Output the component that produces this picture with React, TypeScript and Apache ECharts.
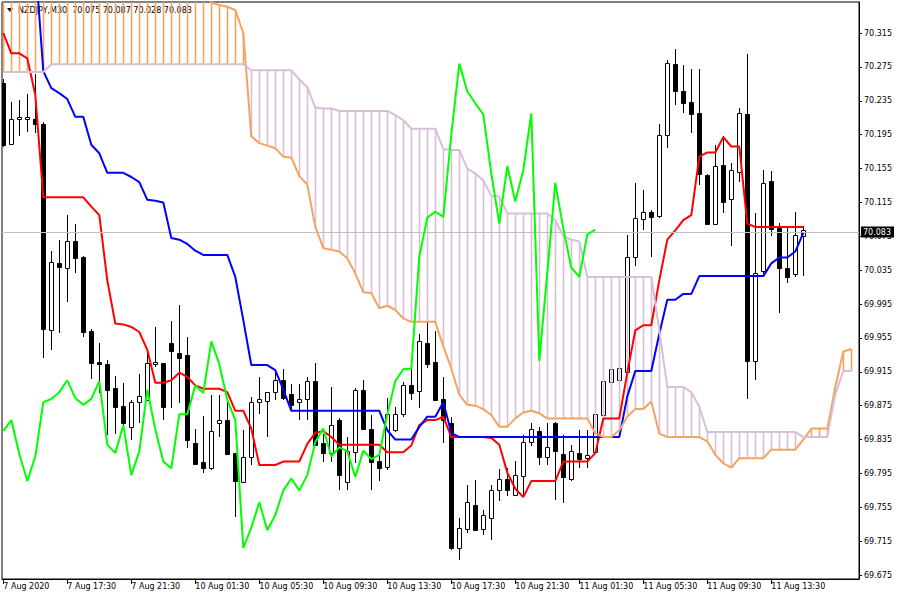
import React, { useEffect, useRef } from "react";
import * as echarts from "echarts";

const FONT = "DejaVu Sans";

const chartTitle = "NZDJPY,M30  70.075 70.087 70.028 70.083";
const lastPrice = 70.083;

const timeLabels = [
  "7 Aug 2020", "7 Aug 17:30", "7 Aug 21:30", "10 Aug 01:30", "10 Aug 05:30",
  "10 Aug 09:30", "10 Aug 13:30", "10 Aug 17:30", "10 Aug 21:30", "11 Aug 01:30",
  "11 Aug 05:30", "11 Aug 09:30", "11 Aug 13:30",
];
const labelBars = [0, 8, 16, 24, 32, 40, 48, 56, 64, 72, 80, 88, 96];

const priceTicks = [
  70.315, 70.275, 70.235, 70.195, 70.155, 70.115, 70.075, 70.035, 69.995,
  69.955, 69.915, 69.875, 69.835, 69.795, 69.755, 69.715, 69.675,
];

// OHLC of 101 M30 bars
const opens = [
  70.256, 70.184, 70.213, 70.213, 70.213, 70.208, 69.964, 70.043, 70.038, 70.069,
  70.050, 69.963, 69.927, 69.924, 69.896, 69.875, 69.850, 69.879, 69.882, 69.924,
  69.925, 69.949, 69.937, 69.935, 69.831, 69.808, 69.801, 69.854, 69.858, 69.819,
  69.785, 69.815, 69.879, 69.880, 69.891, 69.905, 69.889, 69.879, 69.883, 69.904,
  69.831, 69.819, 69.858, 69.785, 69.820, 69.894, 69.847, 69.810, 69.803, 69.846,
  69.865, 69.899, 69.892, 69.949, 69.927, 69.883, 69.855, 69.707, 69.730, 69.758,
  69.729, 69.743, 69.775, 69.789, 69.770, 69.792, 69.832, 69.845, 69.815, 69.855,
  69.818, 69.788, 69.819, 69.813, 69.820, 69.864, 69.903, 69.905, 69.915, 70.051,
  70.096, 70.104, 70.099, 70.194, 70.278, 70.247, 70.233, 70.221, 70.147, 70.090,
  70.159, 70.119, 70.151, 70.219, 69.928, 70.034, 70.140, 70.085, 70.037, 70.031,
  70.075,
];
const highs = [
  70.261, 70.234, 70.236, 70.243, 70.267, 70.210, 70.058, 70.071, 70.100, 70.090,
  70.052, 69.965, 69.949, 69.929, 69.910, 69.902, 69.882, 69.913, 69.937, 69.968,
  69.925, 69.975, 69.994, 69.956, 69.847, 69.863, 69.888, 69.888, 69.882, 69.819,
  69.846, 69.885, 69.909, 69.891, 69.917, 69.918, 69.901, 69.901, 69.909, 69.925,
  69.842, 69.897, 69.860, 69.838, 69.896, 69.905, 69.864, 69.819, 69.884, 69.874,
  69.903, 69.930, 69.960, 69.974, 69.963, 69.909, 69.862, 69.743, 69.781, 69.787,
  69.752, 69.781, 69.800, 69.802, 69.810, 69.840, 69.855, 69.850, 69.854, 69.856,
  69.840, 69.829, 69.846, 69.846, 69.868, 69.905, 69.918, 69.919, 70.077, 70.138,
  70.130, 70.106, 70.207, 70.283, 70.296, 70.277, 70.272, 70.272, 70.149, 70.183,
  70.193, 70.162, 70.227, 70.290, 70.103, 70.153, 70.152, 70.091, 70.085, 70.104,
  70.087,
];
const lows = [
  70.180, 70.184, 70.193, 70.198, 70.197, 69.931, 69.941, 69.961, 69.998, 70.032,
  69.956, 69.907, 69.890, 69.840, 69.842, 69.850, 69.835, 69.854, 69.880, 69.921,
  69.858, 69.872, 69.878, 69.825, 69.805, 69.795, 69.799, 69.838, 69.817, 69.744,
  69.785, 69.805, 69.865, 69.838, 69.882, 69.882, 69.870, 69.858, 69.858, 69.827,
  69.809, 69.809, 69.775, 69.775, 69.807, 69.846, 69.775, 69.786, 69.799, 69.844,
  69.862, 69.882, 69.872, 69.919, 69.880, 69.831, 69.705, 69.693, 69.725, 69.727,
  69.722, 69.716, 69.762, 69.768, 69.768, 69.768, 69.827, 69.805, 69.805, 69.764,
  69.760, 69.786, 69.801, 69.801, 69.819, 69.860, 69.902, 69.903, 69.905, 70.040,
  70.083, 70.051, 70.097, 70.179, 70.230, 70.220, 70.197, 70.136, 70.089, 70.088,
  70.102, 70.064, 70.139, 69.883, 69.905, 70.031, 70.075, 69.985, 70.020, 70.027,
  70.028,
];
const closes = [
  70.183, 70.213, 70.216, 70.216, 70.208, 69.965, 70.045, 70.039, 70.069, 70.049,
  69.962, 69.925, 69.924, 69.894, 69.874, 69.855, 69.879, 69.886, 69.925, 69.927,
  69.874, 69.940, 69.931, 69.835, 69.806, 69.802, 69.845, 69.858, 69.818, 69.786,
  69.815, 69.879, 69.883, 69.891, 69.905, 69.884, 69.876, 69.883, 69.904, 69.829,
  69.819, 69.852, 69.793, 69.821, 69.894, 69.847, 69.809, 69.801, 69.865, 69.865,
  69.899, 69.890, 69.951, 69.924, 69.882, 69.858, 69.707, 69.731, 69.761, 69.728,
  69.746, 69.775, 69.789, 69.775, 69.793, 69.832, 69.848, 69.815, 69.826, 69.821,
  69.791, 69.822, 69.812, 69.817, 69.865, 69.904, 69.918, 69.919, 70.051, 70.097,
  70.104, 70.098, 70.195, 70.279, 70.246, 70.232, 70.219, 70.149, 70.090, 70.158,
  70.116, 70.153, 70.220, 69.928, 70.032, 70.138, 70.084, 70.038, 70.027, 70.077,
  70.083,
];

// Ichimoku lines
const tenkan = [
  70.315, 70.291, 70.291, 70.285, 70.242, 70.121, 70.121, 70.121, 70.121, 70.121,
  70.121, 70.110, 70.100, 70.023, 69.972, 69.971, 69.968, 69.962, 69.941, 69.902,
  69.902, 69.905, 69.914, 69.909, 69.899, 69.895, 69.895, 69.895, 69.891, 69.869,
  69.869, 69.848, 69.805, 69.805, 69.805, 69.809, 69.809, 69.809, 69.830, 69.843,
  69.845, 69.838, 69.829, 69.829, 69.829, 69.829, 69.829, 69.829, 69.820, 69.820,
  69.820, 69.828, 69.852, 69.858, 69.858, 69.862, 69.838, 69.838, 69.838, 69.838,
  69.838, 69.837, 69.829, 69.796, 69.777, 69.767, 69.786, 69.786, 69.786, 69.786,
  69.809, 69.809, 69.809, 69.809, 69.819, 69.860, 69.860, 69.860, 69.914, 69.964,
  69.970, 69.970, 70.023, 70.071, 70.082, 70.094, 70.100, 70.169, 70.174, 70.174,
  70.192, 70.181, 70.181, 70.090, 70.086, 70.086, 70.086, 70.086, 70.086, 70.086,
  70.086,
];
const kijun = [
  70.420, 70.420, 70.420, 70.420, 70.400, 70.270, 70.250, 70.244, 70.237, 70.216,
  70.216, 70.183, 70.173, 70.150, 70.150, 70.150, 70.145, 70.139, 70.118, 70.117,
  70.115, 70.073, 70.071, 70.066, 70.058, 70.053, 70.053, 70.053, 70.053, 70.027,
  69.976, 69.923, 69.923, 69.923, 69.917, 69.894, 69.869, 69.869, 69.869, 69.869,
  69.869, 69.869, 69.869, 69.869, 69.869, 69.869, 69.869, 69.869, 69.846, 69.835,
  69.835, 69.835, 69.850, 69.862, 69.862, 69.879, 69.843, 69.838, 69.838, 69.838,
  69.838, 69.838, 69.838, 69.838, 69.838, 69.838, 69.838, 69.838, 69.838, 69.838,
  69.838, 69.838, 69.838, 69.838, 69.838, 69.838, 69.838, 69.838, 69.886, 69.916,
  69.916, 69.916, 69.960, 70.000, 70.000, 70.007, 70.007, 70.028, 70.028, 70.028,
  70.028, 70.028, 70.028, 70.028, 70.028, 70.028, 70.043, 70.050, 70.050, 70.057,
  70.079,
];
const spanA = [
  70.400, 70.400, 70.400, 70.400, 70.400, 70.400, 70.400, 70.400, 70.400, 70.400,
  70.400, 70.400, 70.400, 70.400, 70.400, 70.400, 70.400, 70.400, 70.400, 70.400,
  70.400, 70.400, 70.400, 70.400, 70.400, 70.370, 70.351, 70.348, 70.346, 70.342,
  70.315, 70.193, 70.185, 70.182, 70.179, 70.169, 70.168, 70.146, 70.136, 70.086,
  70.061, 70.059, 70.057, 70.049, 70.031, 70.009, 70.008, 69.990, 69.993, 69.988,
  69.978, 69.974, 69.974, 69.974, 69.974, 69.945, 69.919, 69.888, 69.876, 69.875,
  69.871, 69.864, 69.850, 69.850, 69.860, 69.867, 69.869, 69.866, 69.860, 69.860,
  69.860, 69.860, 69.860, 69.860, 69.842, 69.838, 69.838, 69.846, 69.862, 69.871,
  69.871, 69.880, 69.842, 69.838, 69.838, 69.838, 69.838, 69.838, 69.833, 69.817,
  69.807, 69.802, 69.813, 69.813, 69.813, 69.813, 69.823, 69.823, 69.823, 69.823,
  69.835, 69.848, 69.848, 69.848, 69.897, 69.939, 69.942,
];
const spanB = [
  70.269, 70.269, 70.269, 70.269, 70.269, 70.269, 70.278, 70.278, 70.278, 70.278,
  70.278, 70.278, 70.278, 70.278, 70.278, 70.278, 70.278, 70.278, 70.278, 70.278,
  70.278, 70.278, 70.278, 70.278, 70.278, 70.278, 70.278, 70.278, 70.278, 70.278,
  70.278, 70.271, 70.271, 70.271, 70.271, 70.271, 70.271, 70.260, 70.251, 70.227,
  70.226, 70.226, 70.223, 70.223, 70.223, 70.223, 70.223, 70.223, 70.223, 70.218,
  70.212, 70.202, 70.202, 70.202, 70.202, 70.178, 70.177, 70.177, 70.155, 70.149,
  70.141, 70.123, 70.122, 70.102, 70.102, 70.102, 70.102, 70.102, 70.102, 70.094,
  70.075, 70.071, 70.069, 70.027, 70.027, 70.027, 70.027, 70.027, 70.027, 70.027,
  70.027, 70.027, 69.964, 69.897, 69.897, 69.897, 69.891, 69.874, 69.844, 69.844,
  69.844, 69.844, 69.844, 69.844, 69.844, 69.844, 69.844, 69.844, 69.844, 69.844,
  69.838, 69.838, 69.838, 69.838, 69.888, 69.916, 69.916,
];

// Chikou span: closes plotted 26 bars back
const CHIKOU_SHIFT = 26;
const chikou = closes.slice(CHIKOU_SHIFT);

const toPairs = (arr: number[]) => arr.map((v, i) => [i, v]);

export default function App() {
  const ref = useRef<HTMLDivElement>(null);

  useEffect(() => {
    if (!ref.current) return;
    const chart = echarts.init(ref.current, undefined, { renderer: "svg" });

    const candleData = closes.map((c, i) => [i, opens[i], c, lows[i], highs[i]]);
    const cloudData = spanA.map((a, i) => [i, a, spanB[i]]);

    const option: any = {
      animation: false,
      backgroundColor: "#ffffff",
      textStyle: { fontFamily: FONT },
      grid: {
        left: 2,
        top: 2,
        right: 41,
        bottom: 21,
        show: true,
        borderColor: "#000",
        borderWidth: 1,
        containLabel: false,
        outerBoundsMode: "none",
      },
      xAxis: {
        type: "value",
        min: -0.1625,
        max: 106.9625,
        splitLine: { show: false },
        axisLine: { show: true, lineStyle: { color: "#000", width: 1 } },
        axisTick: {
          show: true,
          customValues: labelBars,
          length: 5,
          lineStyle: { color: "#000", width: 1 },
        },
        axisLabel: {
          show: true,
          customValues: labelBars,
          formatter: (v: number) => {
            const k = labelBars.indexOf(Math.round(v));
            return k >= 0 ? timeLabels[k] : "";
          },
          align: "left",
          margin: 3,
          color: "#000",
          fontFamily: FONT,
          fontSize: 8,
        },
      },
      yAxis: {
        type: "value",
        position: "right",
        min: 69.6704,
        max: 70.3516,
        scale: true,
        splitLine: { show: false },
        axisLine: { show: true, onZero: false, lineStyle: { color: "#000", width: 1 } },
        axisTick: {
          show: true,
          customValues: priceTicks,
          length: 3,
          lineStyle: { color: "#000", width: 1 },
        },
        axisLabel: {
          show: true,
          customValues: priceTicks,
          formatter: (v: number) => v.toFixed(3),
          margin: 5,
          color: "#000",
          fontFamily: FONT,
          fontSize: 8,
        },
      },
      graphic: [
        {
          type: "polygon",
          z: 0,
          shape: { points: [[7, 8], [13, 8], [10, 12]] },
          style: { fill: "#000" },
        },
        {
          type: "text",
          z: 0,
          left: 18,
          top: 6,
          style: {
            text: chartTitle,
            fill: "#000",
            font: `8px "${FONT}"`,
          },
        },
      ],
      series: [
        {
          name: "price line",
          type: "line",
          data: [[candleData.length - 1, lastPrice]],
          symbol: "none",
          showSymbol: false,
          lineStyle: { opacity: 0 },
          z: 1,
          silent: true,
          markLine: {
            silent: true,
            symbol: ["none", "none"],
            lineStyle: { color: "#C0C0C0", type: "solid", width: 1 },
            label: {
              show: true,
              position: "end",
              distance: 2,
              formatter: () => lastPrice.toFixed(3),
              backgroundColor: "#000",
              color: "#fff",
              padding: [2, 3, 1, 2],
              fontFamily: FONT,
              fontSize: 8,
            },
            emphasis: { disabled: true },
            data: [{ yAxis: lastPrice }],
          },
        },
        {
          name: "candles",
          type: "custom",
          clip: true,
          z: 2,
          data: candleData,
          encode: { x: 0, y: [1, 2, 3, 4] },
          renderItem: (_params: any, api: any) => {
            const i = api.value(0);
            const o = api.value(1);
            const c = api.value(2);
            const l = api.value(3);
            const h = api.value(4);
            const pO = api.coord([i, o]);
            const pC = api.coord([i, c]);
            const pL = api.coord([i, l]);
            const pH = api.coord([i, h]);
            const xc = Math.round(pO[0]) + 0.5;
            const top = Math.round(Math.min(pO[1], pC[1])) + 0.5;
            const bot = Math.round(Math.max(pO[1], pC[1])) + 0.5;
            const bull = c >= o;
            return {
              type: "group",
              children: [
                {
                  type: "line",
                  shape: { x1: xc, y1: Math.round(pH[1]), x2: xc, y2: Math.round(pL[1]) },
                  style: { stroke: "#000", lineWidth: 1 },
                },
                {
                  type: "rect",
                  shape: { x: xc - 2, y: top, width: 4, height: Math.max(bot - top, 1) },
                  style: { fill: bull ? "#fff" : "#000", stroke: "#000", lineWidth: 1 },
                },
              ],
            };
          },
        },
        {
          name: "cloud",
          type: "custom",
          clip: true,
          z: 3,
          data: cloudData,
          encode: { x: 0, y: [1, 2] },
          renderItem: (_params: any, api: any) => {
            const i = api.value(0);
            const a = api.value(1);
            const b = api.value(2);
            const pA = api.coord([i, a]);
            const pB = api.coord([i, b]);
            const x = Math.round(pA[0]) + 0.5;
            return {
              type: "line",
              shape: { x1: x, y1: pA[1], x2: x, y2: pB[1] },
              style: { stroke: a >= b ? "#F4A460" : "#D8BFD8", lineWidth: 1.6 },
            };
          },
        },
        {
          name: "Tenkan-sen",
          type: "line",
          data: toPairs(tenkan),
          symbol: "none",
          lineStyle: { color: "#FF0000", width: 2 },
          z: 4,
        },
        {
          name: "Kijun-sen",
          type: "line",
          data: toPairs(kijun),
          symbol: "none",
          lineStyle: { color: "#0000FF", width: 2 },
          z: 5,
        },
        {
          name: "Senkou Span A",
          type: "line",
          data: toPairs(spanA),
          symbol: "none",
          lineStyle: { color: "#F4A460", width: 2 },
          z: 6,
        },
        {
          name: "Senkou Span B",
          type: "line",
          data: toPairs(spanB),
          symbol: "none",
          lineStyle: { color: "#D8BFD8", width: 2 },
          z: 6,
        },
        {
          name: "Chikou Span",
          type: "line",
          data: toPairs(chikou),
          symbol: "none",
          lineStyle: { color: "#00FF00", width: 2 },
          z: 7,
        },
      ],
    };

    chart.setOption(option);
    return () => chart.dispose();
  }, []);

  return (
    <div
      style={{ position: "fixed", left: 0, top: 0, width: 900, height: 600, background: "#fff" }}
    >
      <div ref={ref} style={{ width: 900, height: 600 }} />
    </div>
  );
}
